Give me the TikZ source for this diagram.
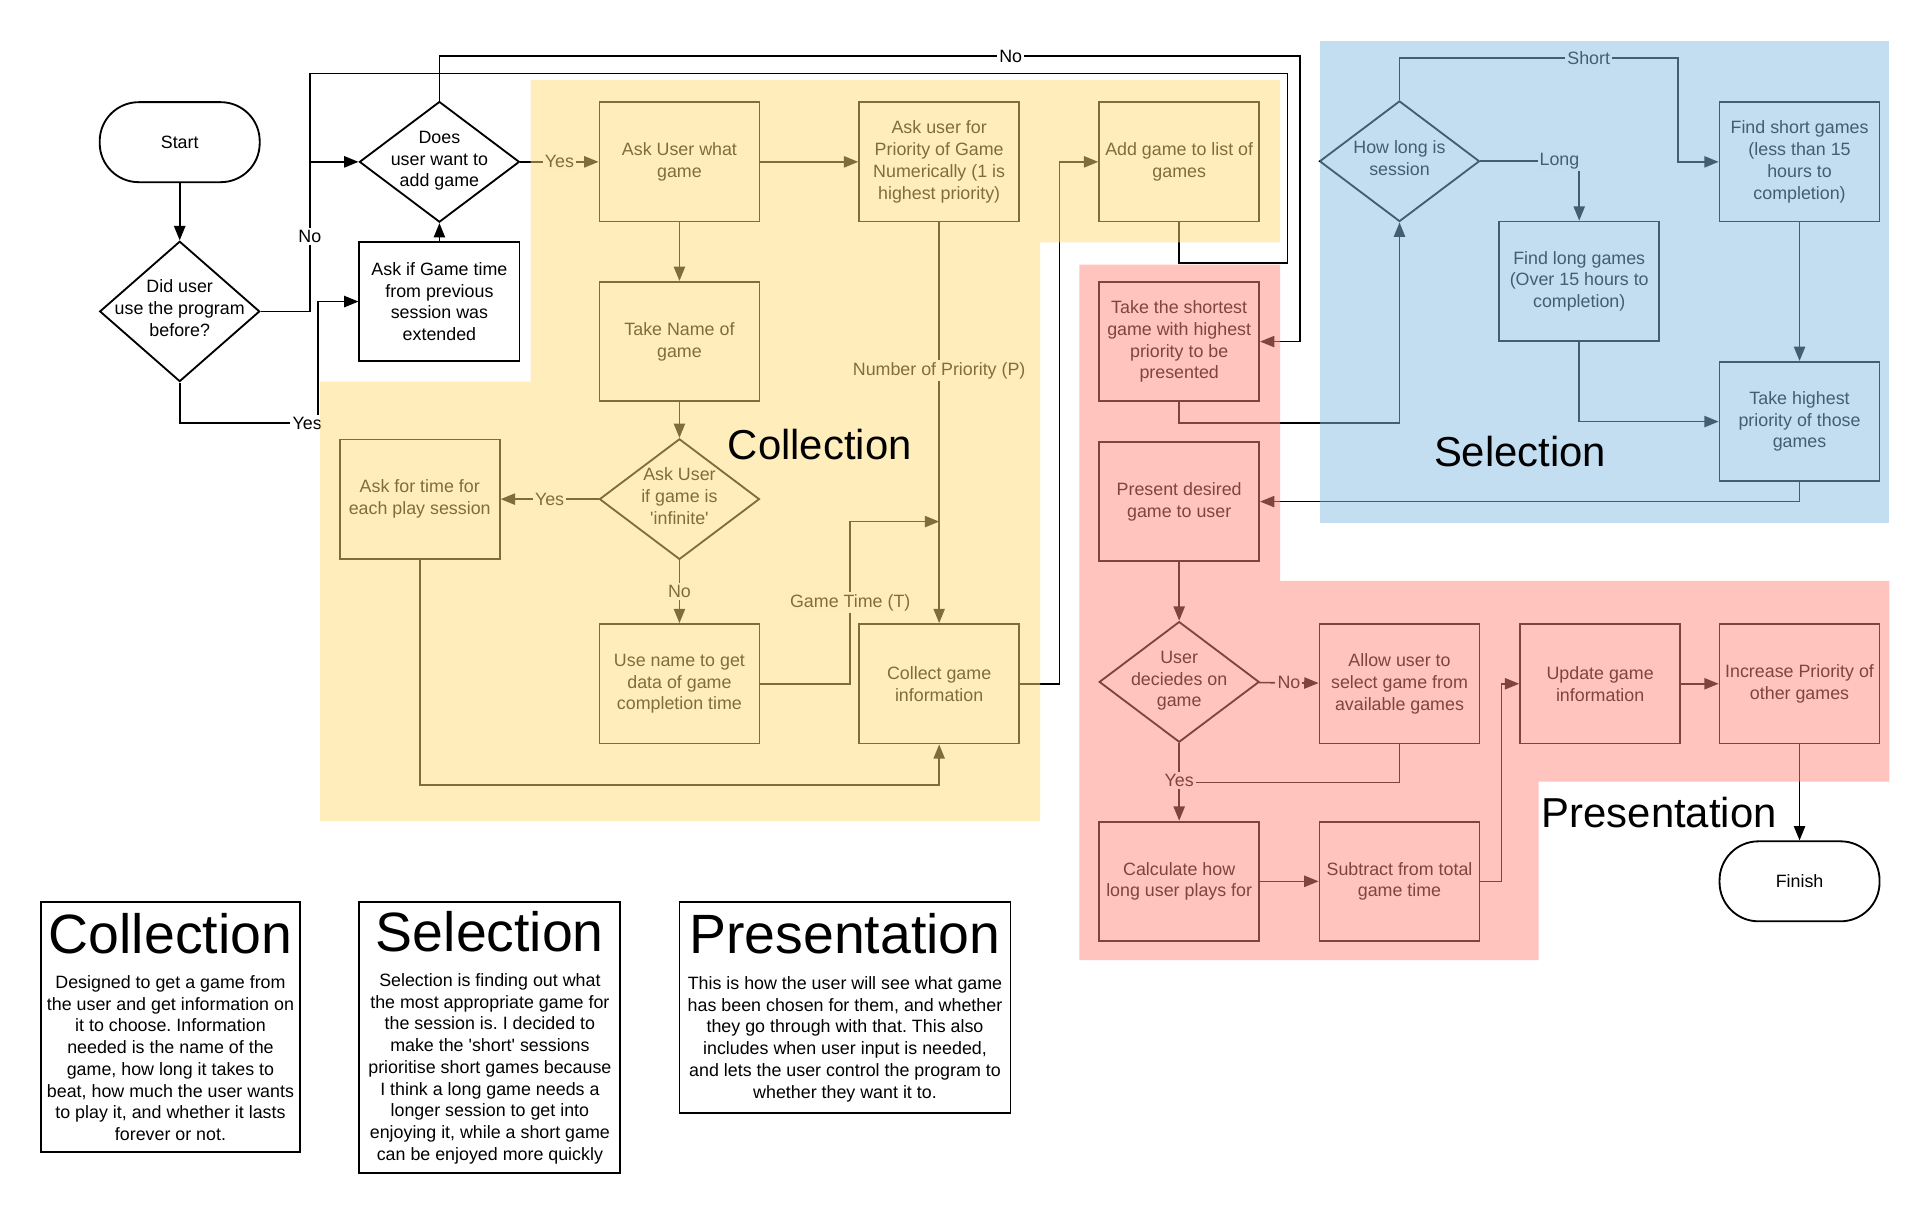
\documentclass[tikz,border=0pt]{standalone}
\usepackage{fontspec}
\setmainfont{Liberation Sans}
\usetikzlibrary{shapes.geometric,arrows.meta}

\definecolor{collyel}{RGB}{255,219,119}
\definecolor{selblue}{RGB}{135,187,227}
\definecolor{prered}{RGB}{255,137,125}

\newcommand{\dtxt}[1]{\smash{\makebox[0pt]{\raisebox{-0.2em}{\begin{tabular}{@{}c@{}}#1\end{tabular}}}}}
\newcommand{\zonefont}{\fontsize{20.4}{24}\selectfont}
\newcommand{\notefont}{\fontsize{27}{31}\selectfont}
\frenchspacing

\begin{document}
\begin{tikzpicture}[x=0.6pt, y=-0.6pt, font=\fontsize{8.7}{10.6}\selectfont,
    box/.style={draw, line width=0.9pt, minimum width=78pt, minimum height=58.2pt, inner sep=1pt, align=center},
    dec/.style={draw, line width=0.9pt, shape=diamond, minimum width=78pt, minimum height=58.8pt, inner sep=0pt},
    term/.style={draw, line width=0.9pt, rounded corners=19pt, minimum width=78pt, minimum height=39pt},
    wire/.style={line width=0.8pt},
    arr/.style={wire, -{Triangle[length=7pt,width=5.5pt]}},
    lbl/.style={fill=white, inner sep=1pt},
    note/.style={draw, line width=0.9pt, inner sep=1pt, align=center},
    zone/.style={fill opacity=0.5}]
    \useasboundingbox (0,0) rectangle (1568,985);
    % start of the program
    \node[term] (start) at (146,115.5) {Start};
    \node[dec, minimum height=68.4pt] (did) at (146,253) {\dtxt{Did user\\use the program\\before?}};
    \node[dec] (does) at (357,131.5) {\dtxt{Does\\user want to\\add game}};
    \node[box] (askif) at (357,245) {Ask if Game time\\from previous\\session was\\extended};
    % collection
    \node[box] (askgame) at (552,131.5) {Ask User what\\game};
    \node[box] (prio) at (763,131.5) {Ask user for\\Priority of Game\\Numerically (1 is\\highest priority)};
    \node[box] (addgame) at (958,131.5) {Add game to list of\\games};
    \node[box] (name) at (552,277.5) {Take Name of\\game};
    \node[dec] (inf) at (552,405.5) {\dtxt{Ask User\\if game is\\\textquotesingle infinite\textquotesingle}};
    \node[box] (playtime) at (341,405.5) {Ask for time for\\each play session};
    \node[box] (usename) at (552,555.5) {Use name to get\\data of game\\completion time};
    \node[box] (collect) at (763,555.5) {Collect game\\information};
    % selection
    \node[dec] (howlong) at (1137,131) {\dtxt{How long is\\session}};
    \node[box] (fshort) at (1462,131.5) {Find short games\\(less than 15\\hours to\\completion)};
    \node[box] (flong) at (1283,228.5) {Find long games\\(Over 15 hours to\\completion)};
    \node[box] (takehigh) at (1462,342.5) {Take highest\\priority of those\\games};
    % presentation
    \node[box] (shortest) at (958,277.5) {Take the shortest\\game with highest\\priority to be\\presented};
    \node[box] (present) at (958,407.5) {Present desired\\game to user};
    \node[dec] (decide) at (958,554) {\dtxt{User\\deciedes on\\game}};
    \node[box] (allow) at (1137,555.5) {Allow user to\\select game from\\available games};
    \node[box] (update) at (1300,555.5) {Update game\\information};
    \node[box] (increase) at (1462,555.5) {Increase Priority of\\other games};
    \node[box] (calcplay) at (958,716) {Calculate how\\long user plays for};
    \node[box] (subtract) at (1137,716) {Subtract from total\\game time};
    \node[term] (finish) at (1462,716) {Finish};

    % joints on the connectors
    \path (did.east) ++(40,0) coordinate (tee);
    \path (prio.south) ++(0,243) coordinate (tjoin);
    \path (decide.south) ++(0,32) coordinate (yj);

    % start and the two first questions
    \draw[arr] (start) -- (did);
    \draw[arr] (did.east) -- (tee) |- node[lbl,pos=0.25]{No} (does.west);
    \draw[arr] (did.south) |- node[lbl,pos=0.96]{Yes} ++(112.5,33) |- (askif.west);
    \draw[arr] (askif) -- (does);
    \draw[wire] (addgame.south) -- ++(0,33) -| ++(88,-154) -| (tee |- does.west);
    \draw[arr] (does.north) -- ++(0,-36) -- node[lbl,pos=0.664]{No} ++(699,0) |- (shortest.east);
    \draw[arr] (does) -- node[lbl]{Yes} (askgame);
    % collection
    \draw[arr] (askgame) -- (prio);
    \draw[arr] (askgame) -- (name);
    \draw[arr] (name) -- (inf);
    \draw[arr] (inf) -- node[lbl]{Yes} (playtime);
    \draw[arr] (inf) -- node[lbl]{No} (usename);
    \draw[arr] (prio) -- node[lbl,pos=0.37]{Number of Priority (P)} (collect);
    \draw[arr] (usename.east) -- ++(73,0) |- node[lbl,pos=0.25]{Game Time (T)} (tjoin);
    \draw[arr] (playtime.south) -- ++(0,183) -| (collect.south);
    \draw[arr] (collect.east) -- ++(32,0) |- (addgame.west);
    % selection
    \draw[arr] (shortest.south) -- ++(0,17) -| (howlong.south);
    \draw[arr] (howlong.north) |- node[lbl,pos=0.84]{Short} ++(226,-34) |- (fshort.west);
    \draw[arr] (howlong.east) -| node[lbl,pos=0.4]{Long} (flong.north);
    \draw[arr] (fshort) -- (takehigh);
    \draw[arr] (flong.south) |- (takehigh.west);
    \draw[arr] (takehigh.south) |- (present.east);
    % presentation
    \draw[arr] (present) -- (decide);
    \draw[arr] (decide) -- node[lbl]{No} (allow);
    \draw[wire] (allow.south) |- (yj);
    \draw[arr] (decide) -- node[lbl,pos=0.48]{Yes} (calcplay);
    \draw[arr] (calcplay) -- (subtract);
    \draw[arr] (subtract.east) -- ++(17,0) |- (update.west);
    \draw[arr] (update) -- (increase);
    \draw[arr] (increase) -- (finish);

    % coloured areas laid over the flow
    \fill[collyel, zone] (431,65) -- (1040,65) -- (1040,197) -- (845,197) -- (845,667)
      -- (260,667) -- (260,310) -- (431,310) -- cycle;
    \fill[prered, zone] (877,215) -- (1040,215) -- (1040,472) -- (1535,472) -- (1535,635)
      -- (1250,635) -- (1250,780) -- (877,780) -- cycle;
    \fill[selblue, zone] (1072,33) rectangle (1535,425);
    \node[font=\zonefont] (tcoll) at (666,361) {Collection};
    \node[font=\zonefont] (tsel) at (1235,367) {Selection};
    \node[font=\zonefont] (tpres) at (1348,660) {Presentation};

    % notes under the chart
    \node[note, minimum width=126.6pt, minimum height=121.8pt] (ncoll) at (138.5,834.5)
      {{\notefont Collection}\\[6.4pt]
       Designed to get a game from\\the user and get information on\\it to choose. Information\\
       needed is the name of the\\game, how long it takes to\\beat, how much the user wants\\
       to play it, and whether it lasts\\forever or not.};
    \node[note, minimum width=127.2pt, minimum height=132pt] (nsel) at (398,843)
      {{\notefont Selection}\\[6.4pt]
       Selection is finding out what\\the most appropriate game for\\the session is. I decided to\\
       make the \textquotesingle short\textquotesingle\ sessions\\prioritise short games because\\
       I think a long game needs a\\longer session to get into\\enjoying it, while a short game\\
       can be enjoyed more quickly};
    \node[note, minimum width=161.4pt, minimum height=102.6pt] (npres) at (686.5,818.5)
      {{\notefont Presentation}\\[7pt]
       This is how the user will see what game\\has been chosen for them, and whether\\
       they go through with that. This also\\includes when user input is needed,\\
       and lets the user control the program to\\whether they want it to.};
\end{tikzpicture}
\end{document}
